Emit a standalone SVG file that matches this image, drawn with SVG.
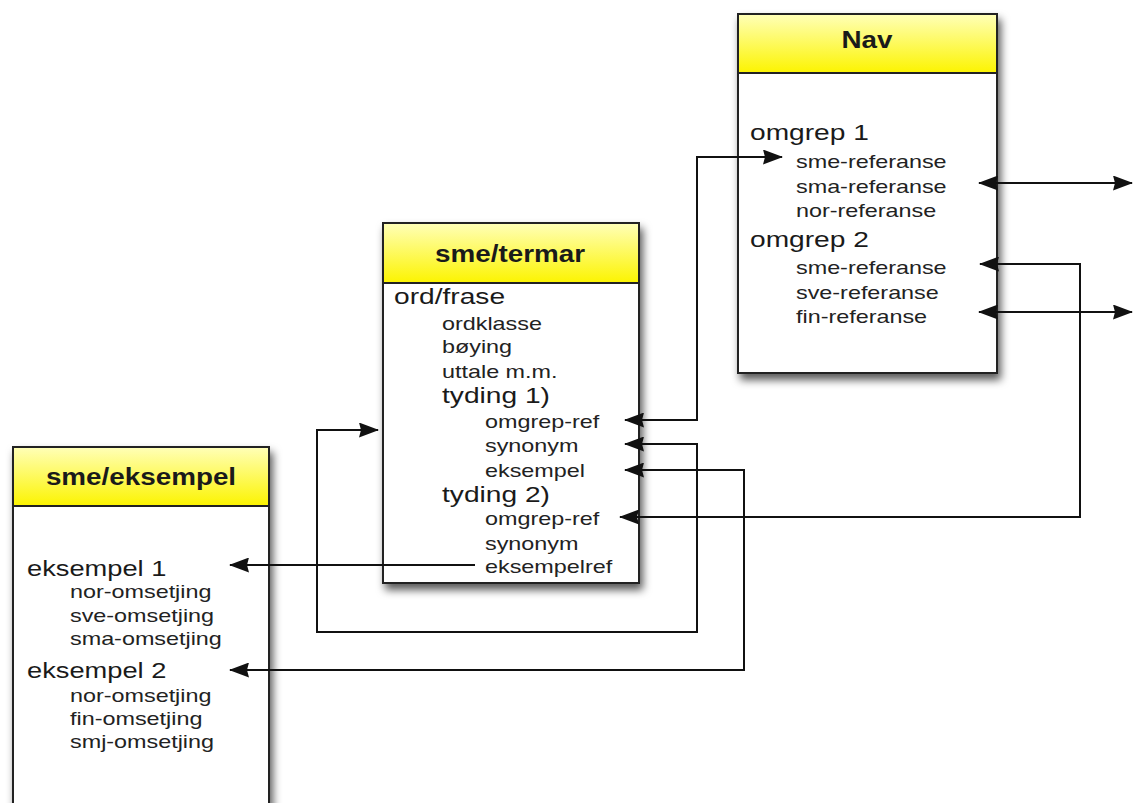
<svg xmlns="http://www.w3.org/2000/svg" width="1133" height="803" viewBox="0 0 1133 803">
<style>
.box{fill:#fff;stroke:#222;stroke-width:2}
.hdr{fill:url(#yel);stroke:#222;stroke-width:2}
.title{font-family:"Liberation Sans",Arial,sans-serif;font-weight:bold;font-size:23px;fill:#1a1a1a;text-anchor:middle}
.main{font-family:"Liberation Sans",Arial,sans-serif;font-size:22px;fill:#1a1a1a}
.sub{font-family:"Liberation Sans",Arial,sans-serif;font-size:19px;fill:#222}
.conn{fill:none;stroke:#111;stroke-width:2;marker-end:url(#ah)}
.both{marker-start:url(#ah)}
</style>
<defs>
<linearGradient id="yel" x1="0" y1="0" x2="0" y2="1">
<stop offset="0" stop-color="#ffffb8"/>
<stop offset="1" stop-color="#fcf400"/>
</linearGradient>
<filter id="sh" x="-10%" y="-10%" width="130%" height="130%">
<feDropShadow dx="3" dy="6" stdDeviation="4" flood-color="#000" flood-opacity="0.65"/>
</filter>
<marker id="ah" viewBox="0 0 20 15" refX="19" refY="7.5" markerWidth="20" markerHeight="15" markerUnits="userSpaceOnUse" orient="auto-start-reverse">
<path d="M0,0 L20,7.5 L0,15 L2,7.5 z" fill="#111"/>
</marker>
</defs>

<g id="nav">
<rect class="box" x="738" y="14" width="259" height="359" filter="url(#sh)"/>
<rect class="hdr" x="738" y="14" width="259" height="59"/>
<text class="title" transform="translate(867 48) scale(1.21 1)">Nav</text>
<text class="main" transform="translate(750 140) scale(1.28 1)">omgrep 1</text>
<text class="sub" transform="translate(796 168) scale(1.23 1)">sme-referanse</text>
<text class="sub" transform="translate(796 192.5) scale(1.23 1)">sma-referanse</text>
<text class="sub" transform="translate(796 217) scale(1.23 1)">nor-referanse</text>
<text class="main" transform="translate(750 247) scale(1.28 1)">omgrep 2</text>
<text class="sub" transform="translate(796 274) scale(1.23 1)">sme-referanse</text>
<text class="sub" transform="translate(796 298.5) scale(1.23 1)">sve-referanse</text>
<text class="sub" transform="translate(796 323) scale(1.23 1)">fin-referanse</text>
</g>

<g id="sme-termar">
<rect class="box" x="383" y="223" width="256" height="360" filter="url(#sh)"/>
<rect class="hdr" x="383" y="223" width="256" height="60"/>
<text class="title" transform="translate(510 262) scale(1.21 1)">sme/termar</text>
<text class="main" transform="translate(394 304) scale(1.28 1)">ord/frase</text>
<text class="sub" transform="translate(442 330) scale(1.23 1)">ordklasse</text>
<text class="sub" transform="translate(442 353) scale(1.23 1)">bøying</text>
<text class="sub" transform="translate(442 378) scale(1.23 1)">uttale m.m.</text>
<text class="main" transform="translate(442 403) scale(1.28 1)">tyding 1)</text>
<text class="sub" transform="translate(485 428) scale(1.23 1)">omgrep-ref</text>
<text class="sub" transform="translate(485 452) scale(1.23 1)">synonym</text>
<text class="sub" transform="translate(485 477) scale(1.23 1)">eksempel</text>
<text class="main" transform="translate(442 501.5) scale(1.28 1)">tyding 2)</text>
<text class="sub" transform="translate(485 525) scale(1.23 1)">omgrep-ref</text>
<text class="sub" transform="translate(485 550) scale(1.23 1)">synonym</text>
<text class="sub" transform="translate(485 573) scale(1.23 1)">eksempelref</text>
</g>

<g id="sme-eksempel">
<rect class="box" x="13" y="447" width="256" height="380" filter="url(#sh)"/>
<rect class="hdr" x="13" y="447" width="256" height="59"/>
<text class="title" transform="translate(141 485) scale(1.21 1)">sme/eksempel</text>
<text class="main" transform="translate(27 576) scale(1.24 1)">eksempel 1</text>
<text class="sub" transform="translate(70 598) scale(1.23 1)">nor-omsetjing</text>
<text class="sub" transform="translate(70 622) scale(1.23 1)">sve-omsetjing</text>
<text class="sub" transform="translate(70 645) scale(1.23 1)">sma-omsetjing</text>
<text class="main" transform="translate(27 678) scale(1.24 1)">eksempel 2</text>
<text class="sub" transform="translate(70 702) scale(1.23 1)">nor-omsetjing</text>
<text class="sub" transform="translate(70 725) scale(1.23 1)">fin-omsetjing</text>
<text class="sub" transform="translate(70 748) scale(1.23 1)">smj-omsetjing</text>
</g>

<g id="connectors">
<path class="conn both" d="M625,420 H697 V157 H782"/>
<path class="conn both" d="M625,444 H697 V632 H317 V430 H378"/>
<path class="conn both" d="M625,470 H744 V670 H230"/>
<path class="conn both" d="M620,517 H1080 V264 H980"/>
<path class="conn" d="M475,565 H230"/>
<path class="conn both" d="M979,183 H1132"/>
<path class="conn both" d="M979,312 H1132"/>
</g>
</svg>
